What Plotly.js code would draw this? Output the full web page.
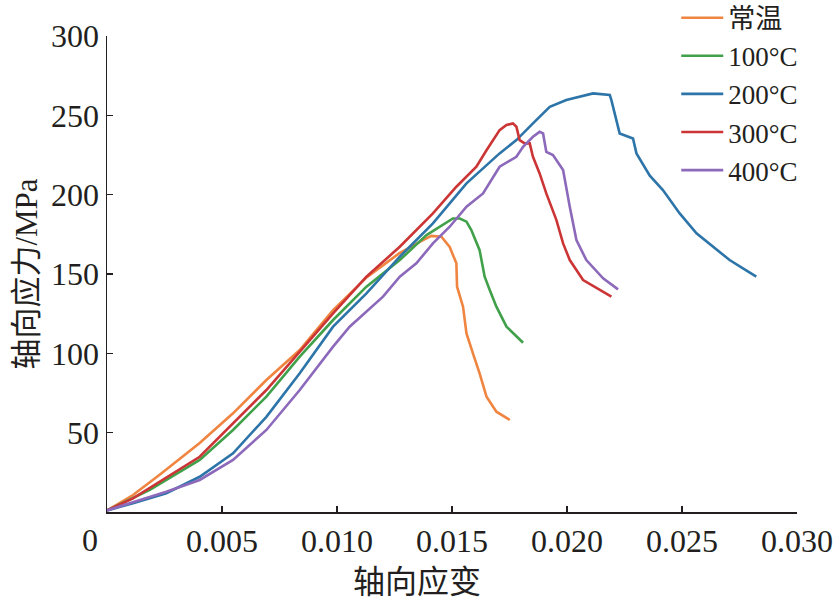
<!DOCTYPE html>
<html>
<head>
<meta charset="utf-8">
<script src="https://cdn.plot.ly/plotly-3.0.1.min.js"></script>
<style>html,body{margin:0;padding:0;background:#fff;}#chart{width:835px;height:601px;}</style>
</head>
<body>
<div id="chart"></div>
<script>
// Series names
const seriesNames = ["常温", "100°C", "200°C", "300°C", "400°C"];

// 常温
const strainRT = [0, 0.00113, 0.00229, 0.00403, 0.00548, 0.00693, 0.00838, 0.00983, 0.0113, 0.0127, 0.0137, 0.0141, 0.01454, 0.0149, 0.01519, 0.01522, 0.01548, 0.01563, 0.01591, 0.0162, 0.0165, 0.01693, 0.01751];
const stressRT = [1, 10.7, 23.5, 43.5, 62.2, 83.2, 102.1, 127.3, 148, 163, 171, 174, 173.5, 167, 156.7, 142, 129.4, 112.6, 100, 87.4, 72.7, 63.2, 58];

// 100°C
const strain100 = [0, 0.00186, 0.00403, 0.00548, 0.00693, 0.00838, 0.00983, 0.01128, 0.01273, 0.01389, 0.01504, 0.01534, 0.01563, 0.01584, 0.0162, 0.01642, 0.01664, 0.01693, 0.01737, 0.01809];
const stress100 = [1, 13.9, 32.8, 51.7, 72.7, 97.9, 121, 142, 158.8, 174.5, 185, 185, 183, 177.7, 165, 148.3, 139.9, 129.4, 116.8, 106.7];

// 200°C
const strain200 = [0, 0.00113, 0.00258, 0.00403, 0.00548, 0.00693, 0.00838, 0.00983, 0.01128, 0.01273, 0.01417, 0.01563, 0.01707, 0.0178, 0.01852, 0.01925, 0.01997, 0.02055, 0.02113, 0.02186, 0.02193, 0.02229, 0.02287, 0.02302, 0.0236, 0.02417, 0.0249, 0.02563, 0.02635, 0.02707, 0.02765, 0.02823];
const stress200 = [1, 5.5, 11.8, 22.2, 37, 60, 87.4, 116.8, 137.8, 160.9, 181.9, 207.1, 226, 234.4, 244.9, 255.4, 259.6, 261.7, 263.8, 262.8, 259.6, 238.6, 235.4, 226, 212, 202.9, 188.2, 175.6, 167.2, 158.8, 153.6, 148.3];

// 300°C
const strain300 = [0, 0.00113, 0.00403, 0.00693, 0.00983, 0.01128, 0.01273, 0.01417, 0.01519, 0.01606, 0.0165, 0.01707, 0.01737, 0.01765, 0.0178, 0.01794, 0.01816, 0.01838, 0.01852, 0.01881, 0.0191, 0.01954, 0.01983, 0.02012, 0.0207, 0.02128, 0.02193];
const stress300 = [1, 8.6, 34.8, 76.9, 125.2, 148.3, 167.2, 188.2, 205, 217.6, 228, 240.7, 243.9, 244.9, 242.8, 234.4, 232.3, 232.3, 223.9, 213.4, 200.8, 184, 169.3, 158.8, 146.2, 141, 135.7];

// 400°C
const strain400 = [0, 0.00258, 0.00403, 0.00548, 0.00693, 0.00838, 0.00983, 0.01055, 0.012, 0.01273, 0.01345, 0.01417, 0.0149, 0.01563, 0.01635, 0.01707, 0.0178, 0.01809, 0.01852, 0.01881, 0.01896, 0.0191, 0.01939, 0.01983, 0.02012, 0.02041, 0.02084, 0.02157, 0.02222];
const stress400 = [1, 12.8, 20.2, 32.8, 51.7, 76.9, 104.2, 116.8, 135.7, 148.3, 156.7, 169.3, 179.8, 192.4, 200.8, 217.6, 223.9, 230.2, 236.5, 239.6, 238.6, 227, 225, 215.5, 192.4, 171.4, 158.8, 147.3, 140.3];

// Ticks
const xTickVals = [0.005, 0.010, 0.015, 0.020, 0.025, 0.030];
const xTickText = ["0.005", "0.010", "0.015", "0.020", "0.025", "0.030"];
const yTickVals = [50, 100, 150, 200, 250, 300];
const yTickText = ["50", "100", "150", "200", "250", "300"];

const colors = ["#ef8540", "#41a04a", "#2d74a8", "#cc3535", "#8c69ba"];
const xs = [strainRT, strain100, strain200, strain300, strain400];
const ys = [stressRT, stress100, stress200, stress300, stress400];

const FONT = "Liberation Serif, 'Times New Roman', 'Noto Sans CJK SC', serif";

const traces = seriesNames.map((n, i) => ({
  x: xs[i], y: ys[i], name: n, type: "scatter", mode: "lines",
  line: {color: colors[i], width: 2.6}
}));

const layout = {
  width: 835, height: 601,
  margin: {l: 107, r: 38, t: 36, b: 89, autoexpand: false},
  paper_bgcolor: "#fff", plot_bgcolor: "#fff",
  font: {family: FONT, size: 32, color: "#231f20"},
  showlegend: true,
  legend: {x: 0.825, y: 1.089, xanchor: "left", yanchor: "top", bgcolor: "rgba(0,0,0,0)",
           font: {family: FONT, size: 27, color: "#231f20"}, tracegroupgap: 0, itemwidth: 42},
  xaxis: {
    range: [0, 0.030], showgrid: false, zeroline: false,
    showline: true, linecolor: "#231f20", linewidth: 1.5,
    ticks: "inside", ticklen: 6, tickwidth: 1.5, tickcolor: "#231f20",
    tickmode: "array", tickvals: xTickVals, ticktext: xTickText,
    tickfont: {family: FONT, size: 32}
  },
  yaxis: {
    range: [0, 300], showgrid: false, zeroline: false,
    showline: true, linecolor: "#231f20", linewidth: 1.5,
    ticks: "inside", ticklen: 6, tickwidth: 1.5, tickcolor: "#231f20",
    tickmode: "array", tickvals: yTickVals, ticktext: yTickText,
    tickfont: {family: FONT, size: 32},
    title: {text: "轴向应力/MPa", font: {family: FONT, size: 31}, standoff: 4}
  },
  annotations: [
    {x: 0, y: 0, xref: "x", yref: "y", text: "0", showarrow: false,
     xshift: -17, yshift: -28, font: {family: FONT, size: 32, color: "#231f20"}},
    {x: 0.449, y: 0, xref: "paper", yref: "paper", text: "轴向应变", showarrow: false,
     xanchor: "center", yanchor: "middle", yshift: -70,
     font: {family: FONT, size: 32, color: "#231f20"}}
  ]
};

Plotly.newPlot("chart", traces, layout, {displayModeBar: false, staticPlot: true});
</script>
</body>
</html>
